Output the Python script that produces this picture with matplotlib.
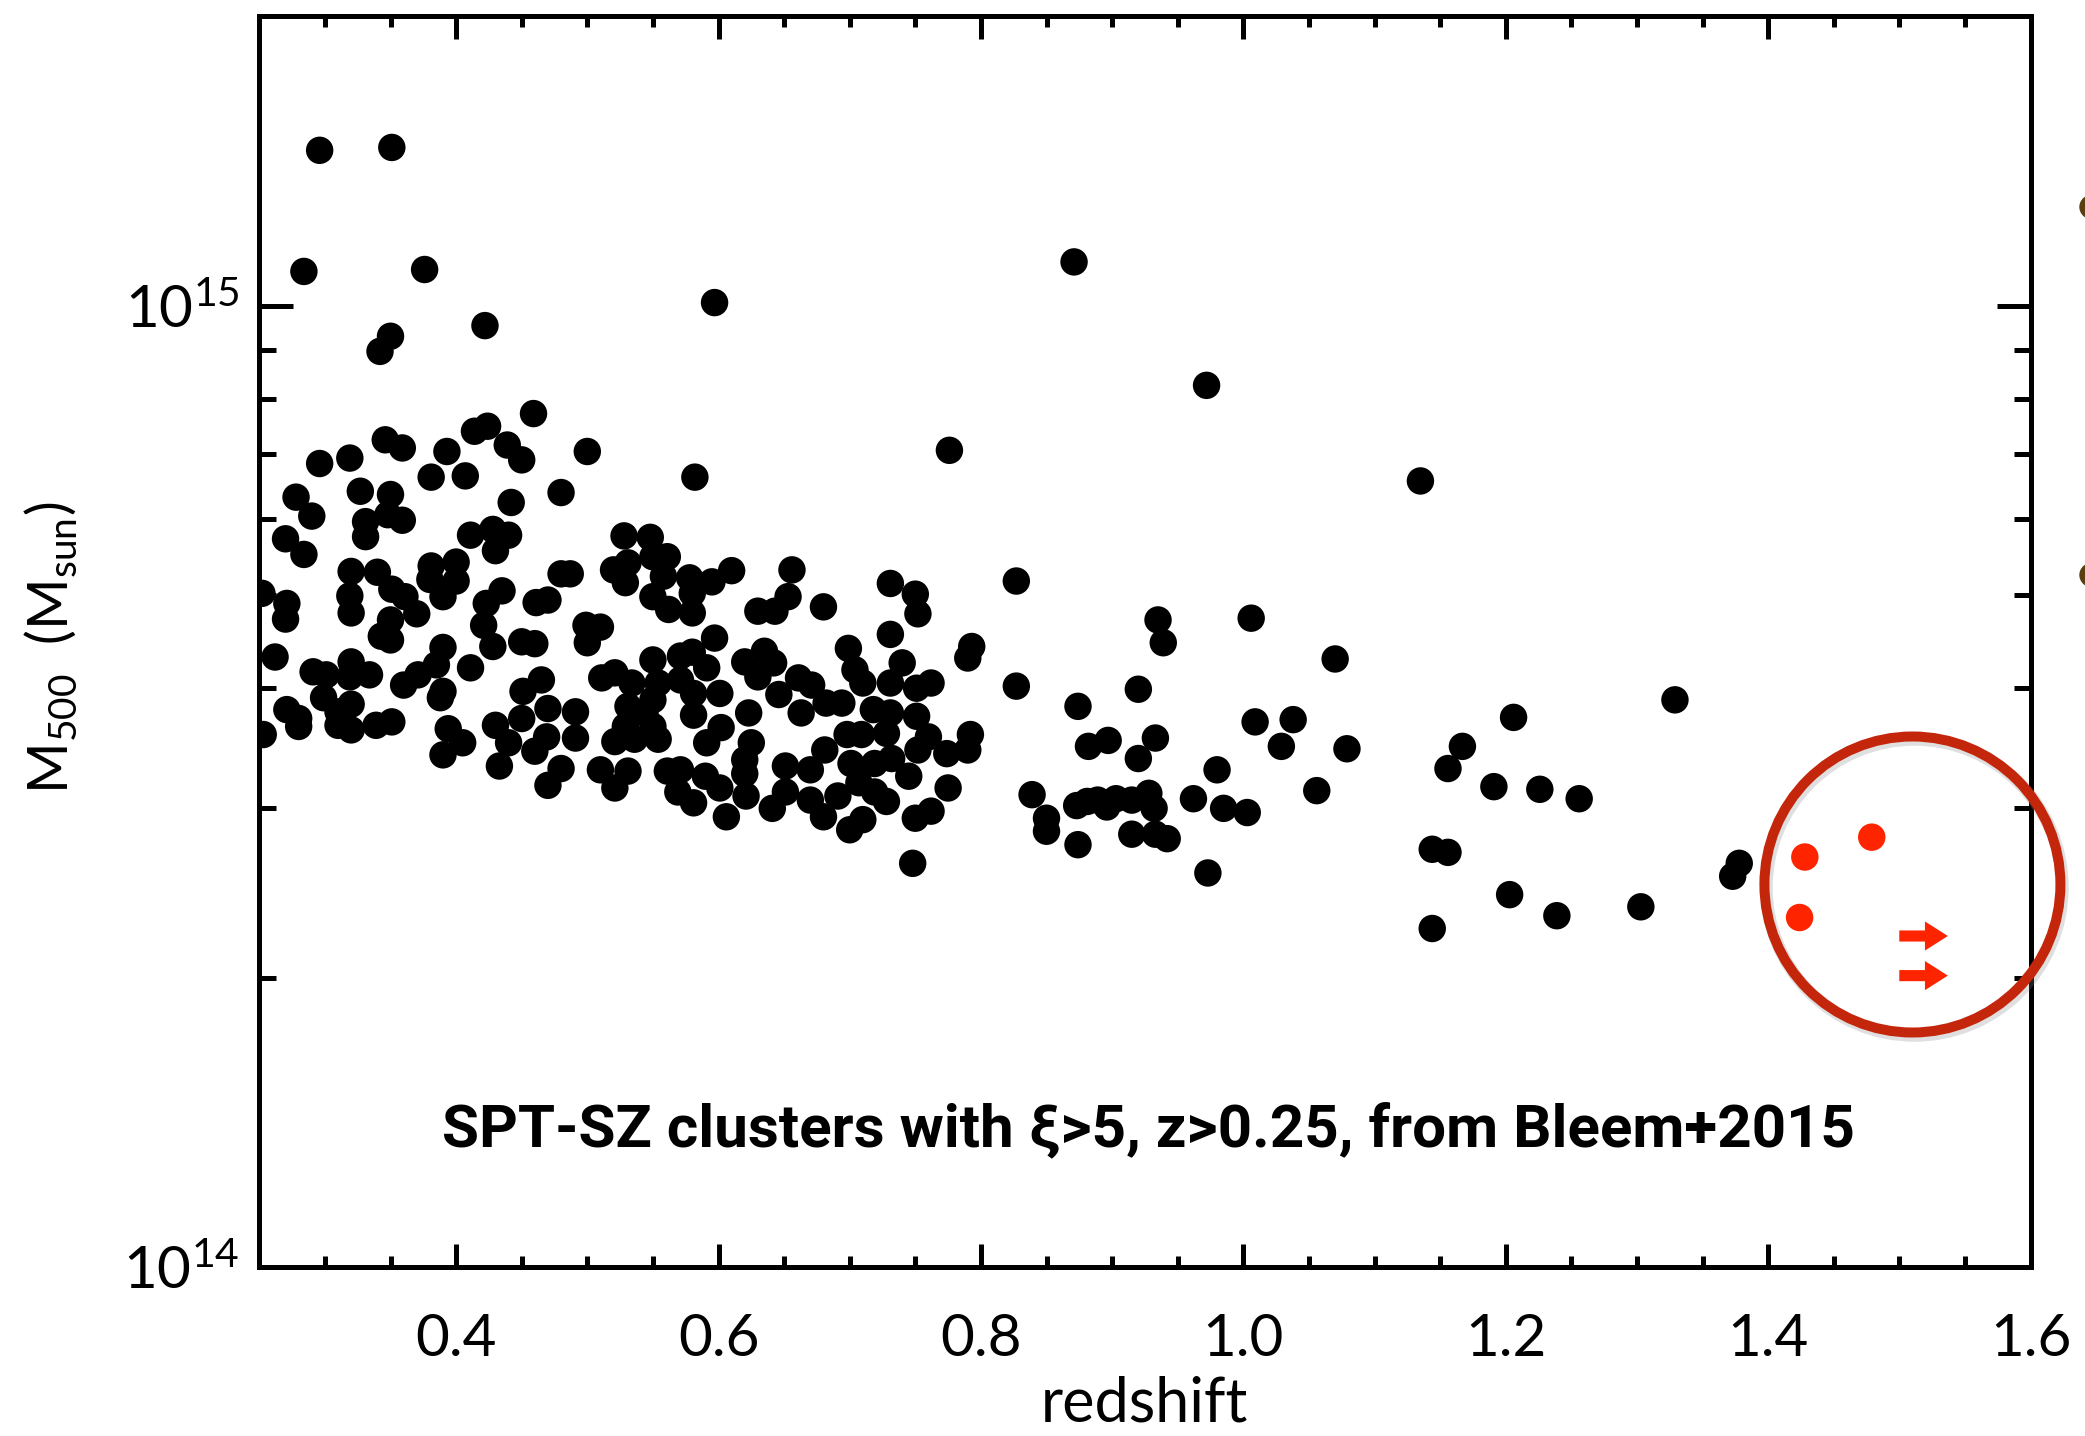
import matplotlib
matplotlib.use('Agg')
import numpy as np
import matplotlib.pyplot as plt
from matplotlib.patches import Circle, Ellipse, FancyArrowPatch
from matplotlib.transforms import ScaledTranslation
from matplotlib.ticker import FixedLocator, MultipleLocator, LogLocator, NullFormatter

# ---------------- data (redshift, M500 in units of 1e14 Msun) ----------------
z_spt = [
    0.296, 0.351, 0.284, 0.376, 0.422, 0.350, 0.342, 0.597, 0.871, 0.972, 0.776, 1.135, 0.582,
    0.459, 0.424, 0.414, 0.439, 0.450, 0.500, 0.346, 0.359, 0.393, 0.319, 0.296, 0.381, 0.407,
    0.327, 0.350, 0.278, 0.290, 0.442, 0.480, 0.331, 0.348, 0.359, 0.331, 0.270, 0.284, 0.411,
    0.428, 0.440, 0.430, 0.528, 0.320, 0.340, 0.381, 0.400, 0.380, 0.400, 0.390, 0.351, 0.361,
    0.370, 0.252, 0.271, 0.270, 0.319, 0.320, 0.435, 0.423, 0.421, 0.461, 0.470, 0.480, 0.487,
    0.520, 0.529, 0.350, 0.343, 0.350, 0.499, 0.510, 0.500, 0.450, 0.460, 0.428, 0.390,
    0.262, 0.291, 0.301, 0.320, 0.334, 0.319, 0.299, 0.271, 0.280, 0.280, 0.310, 0.320, 0.310,
    0.320, 0.253, 0.339, 0.351, 0.360, 0.371, 0.385, 0.390, 0.388, 0.411, 0.394, 0.405, 0.390,
    0.430, 0.440, 0.433, 0.451, 0.465, 0.470, 0.450, 0.460, 0.469, 0.491, 0.491, 0.480, 0.470,
    0.511, 0.521, 0.534, 0.531, 0.521, 0.529, 0.510, 0.521, 0.531,
    0.548, 0.531, 0.561, 0.550, 0.578, 0.558, 0.550, 0.562, 0.580, 0.580, 0.595, 0.610, 0.656,
    0.653, 0.630, 0.643, 0.680, 0.731, 0.750, 0.752, 0.827, 0.597, 0.580, 0.635, 0.699, 0.731,
    0.793,
    0.550, 0.571, 0.591, 0.620, 0.642, 0.630, 0.661, 0.671, 0.646, 0.571, 0.601, 0.581, 0.623,
    0.581, 0.550, 0.550, 0.536, 0.602, 0.591, 0.625, 0.620, 0.620, 0.621, 0.561, 0.571, 0.569,
    0.581, 0.590, 0.601, 0.606, 0.641, 0.651, 0.651, 0.670, 0.670, 0.681, 0.680, 0.691, 0.700,
    0.710, 0.701, 0.707, 0.719, 0.719, 0.728, 0.732, 0.745, 0.698, 0.709, 0.728, 0.718, 0.731,
    0.751, 0.760, 0.752, 0.774, 0.790, 0.792, 0.682, 0.694, 0.663, 0.704, 0.710, 0.731, 0.740,
    0.751, 0.762, 0.790, 0.775, 0.750, 0.762, 0.748, 0.827, 0.554, 0.544, 0.554,
    0.935, 0.939, 1.006, 1.070, 0.874, 0.920, 0.882, 0.897, 0.933, 0.920, 1.009, 1.038, 1.029,
    1.079, 0.980, 0.839, 0.850, 0.850, 0.873, 0.881, 0.889, 0.896, 0.903, 0.915, 0.928, 0.932,
    0.962, 0.985, 1.003, 0.874, 0.915, 0.933, 0.942, 0.973, 1.056, 1.167, 1.156, 1.206, 1.191,
    1.226, 1.256, 1.329, 1.144, 1.156, 1.203, 1.239, 1.303, 1.144, 1.378, 1.373,
]
m_spt = [
    14.5, 14.6, 10.85, 10.9, 9.53, 9.29, 8.96, 10.07, 11.1, 8.26, 7.07, 6.57, 6.63,
    7.72, 7.49, 7.40, 7.16, 6.91, 7.05, 7.25, 7.11, 7.05, 6.94, 6.85, 6.63, 6.65,
    6.41, 6.36, 6.32, 6.04, 6.24, 6.39, 5.96, 6.06, 5.98, 5.75, 5.72, 5.51, 5.77,
    5.85, 5.77, 5.56, 5.76, 5.29, 5.28, 5.36, 5.41, 5.19, 5.17, 4.98, 5.07, 4.98,
    4.78, 5.02, 4.90, 4.72, 4.99, 4.79, 5.05, 4.90, 4.65, 4.91, 4.94, 5.26, 5.26,
    5.31, 5.15, 4.71, 4.53, 4.49, 4.65, 4.63, 4.46, 4.47, 4.45, 4.42, 4.41,
    4.31, 4.16, 4.13, 4.26, 4.13, 4.11, 3.91, 3.80, 3.72, 3.65, 3.78, 3.85, 3.66,
    3.62, 3.58, 3.66, 3.69, 4.03, 4.13, 4.23, 3.97, 3.91, 4.20, 3.63, 3.51, 3.41,
    3.66, 3.51, 3.32, 3.97, 4.08, 3.81, 3.72, 3.44, 3.56, 3.78, 3.55, 3.30, 3.17,
    4.10, 4.15, 4.05, 3.83, 3.52, 3.65, 3.29, 3.15, 3.28,
    5.74, 5.40, 5.48, 5.48, 5.21, 5.23, 4.98, 4.83, 4.79, 5.02, 5.16, 5.30, 5.31,
    4.98, 4.81, 4.81, 4.86, 5.14, 5.01, 4.78, 5.17, 4.51, 4.36, 4.37, 4.40, 4.55,
    4.42,
    4.28, 4.32, 4.20, 4.26, 4.25, 4.11, 4.10, 4.03, 3.94, 4.08, 3.95, 3.95, 3.77,
    3.75, 3.89, 3.65, 3.54, 3.64, 3.51, 3.51, 3.37, 3.26, 3.09, 3.28, 3.29, 3.12,
    3.04, 3.24, 3.15, 2.94, 3.00, 3.12, 3.32, 3.29, 3.06, 3.45, 2.94, 3.09, 2.85,
    2.92, 3.34, 3.19, 3.34, 3.12, 3.05, 3.38, 3.24, 3.58, 3.58, 3.59, 3.80, 3.77,
    3.74, 3.56, 3.45, 3.42, 3.45, 3.58, 3.86, 3.86, 3.77, 4.18, 4.05, 4.05, 4.25,
    4.00, 4.05, 4.30, 3.15, 2.93, 2.98, 2.63, 4.02, 4.05, 3.77, 3.54,
    4.71, 4.46, 4.73, 4.29, 3.83, 3.99, 3.48, 3.53, 3.55, 3.38, 3.69, 3.71, 3.48,
    3.46, 3.29, 3.10, 2.93, 2.84, 3.02, 3.05, 3.06, 3.01, 3.07, 3.06, 3.11, 3.00,
    3.07, 3.00, 2.97, 2.75, 2.82, 2.82, 2.79, 2.57, 3.13, 3.48, 3.30, 3.73, 3.16,
    3.14, 3.07, 3.89, 2.72, 2.70, 2.44, 2.32, 2.37, 2.25, 2.63, 2.55,
]
z_red = [1.428, 1.479, 1.424]
m_red = [2.67, 2.80, 2.31]
z_lim = [1.500, 1.500]          # lower limits in redshift (arrows)
m_lim = [2.21, 2.01]
x_ticks = [0.4, 0.6, 0.8, 1.0, 1.2, 1.4, 1.6]
x_ticklabels = ['0.4', '0.6', '0.8', '1.0', '1.2', '1.4', '1.6']
y_ticks = [1e14, 1e15]
y_ticklabels = [r'$\mathdefault{10^{14}}$', r'$\mathdefault{10^{15}}$']

# ---------------- style ----------------
plt.rcParams['font.family'] = ['Lato', 'DejaVu Sans']
plt.rcParams['font.weight'] = 'normal'

W, H = 2085, 1436
fig = plt.figure(figsize=(W / 100, H / 100), dpi=100)
ax = fig.add_axes([259.3 / W, 1 - 1267.2 / H, (2030.5 - 259.3) / W, (1267.2 - 16) / H])
ax.set_yscale('log')

ax.scatter(z_spt, np.array(m_spt) * 1e14, s=390, c='black', edgecolors='none', zorder=3)
red = '#ff2400'
ax.scatter(z_red, np.array(m_red) * 1e14, s=390, c=red, edgecolors='none', zorder=4)

for zl, ml in zip(z_lim, m_lim):
    arr = FancyArrowPatch((zl, ml * 1e14), (zl + 0.037, ml * 1e14),
                          arrowstyle='simple,head_length=16.5,head_width=21,tail_width=8',
                          mutation_scale=1, color=red, lw=0, shrinkA=0, shrinkB=0, zorder=4)
    ax.add_patch(arr)

ax.set_xlim(0.25, 1.6)
ax.set_ylim(1e14, 2e15)

ax.xaxis.set_major_locator(FixedLocator(x_ticks))
ax.set_xticklabels(x_ticklabels)
ax.xaxis.set_minor_locator(MultipleLocator(0.05))
ax.yaxis.set_major_locator(FixedLocator(y_ticks))
ax.set_yticklabels(y_ticklabels)
ax.yaxis.set_minor_locator(LogLocator(base=10, subs=np.arange(2, 10), numticks=20))
ax.yaxis.set_minor_formatter(NullFormatter())

ax.tick_params(axis='x', which='major', direction='in', length=16.5, width=3.6,
               top=True, bottom=True, labelsize=42, pad=33, labelcolor='black')
ax.tick_params(axis='x', which='minor', direction='in', length=8, width=3.6, top=True, bottom=True)
ax.tick_params(axis='y', which='major', direction='in', length=24.5, width=3.6,
               left=True, right=True, labelsize=42, pad=14, labelcolor='black')
ax.tick_params(axis='y', which='minor', direction='in', length=12, width=3.6, left=True, right=True)
for sp in ax.spines.values():
    sp.set_linewidth(3.6)

ax.set_xlabel('redshift', fontsize=44, va='baseline')
ax.xaxis.set_label_coords(0.5, -0.1235)
ax.set_ylabel(r'M$_{\mathdefault{500}}$  (M$_{\mathdefault{sun}}$)', fontsize=40, va='center')
ax.yaxis.set_label_coords(-0.118, 0.495)

txt = ax.text(0.502, 0.0969, 'SPT-SZ clusters with ξ>5, z>0.25, from Bleem+2015',
              transform=ax.transAxes, ha='center', va='baseline', fontsize=36,
              fontweight='bold', family=['Roboto', 'DejaVu Sans'], zorder=6)
fig.canvas.draw()
w = txt.get_window_extent().width
txt.set_fontsize(36 * 1413 / w)

# red highlighting circle (drawn in pixel units around a data point)
trans = fig.dpi_scale_trans + ScaledTranslation(1.510, 2.50e14, ax.transData)
shadow_trans = fig.dpi_scale_trans + ScaledTranslation(1.510, 2.50e14, ax.transData) + \
    ScaledTranslation(0.02, -0.03, fig.dpi_scale_trans)
ax.add_artist(Circle((0, 0), 1.48, transform=shadow_trans, fill=False, ec='gray',
                     lw=9, alpha=0.25, clip_on=False, zorder=4.5))
ax.add_artist(Circle((0, 0), 1.48, transform=trans, fill=False, ec='#c4260c',
                     lw=7.2, clip_on=False, zorder=5))

# cropped slide fragments on right edge
for fy in [207, 575]:
    fig.add_artist(Ellipse((2093 / W, 1 - fy / H), 26 / W, 24 / H, transform=fig.transFigure,
                           color='#5a3d12', clip_on=False))

fig.savefig('out.png', dpi=100)
